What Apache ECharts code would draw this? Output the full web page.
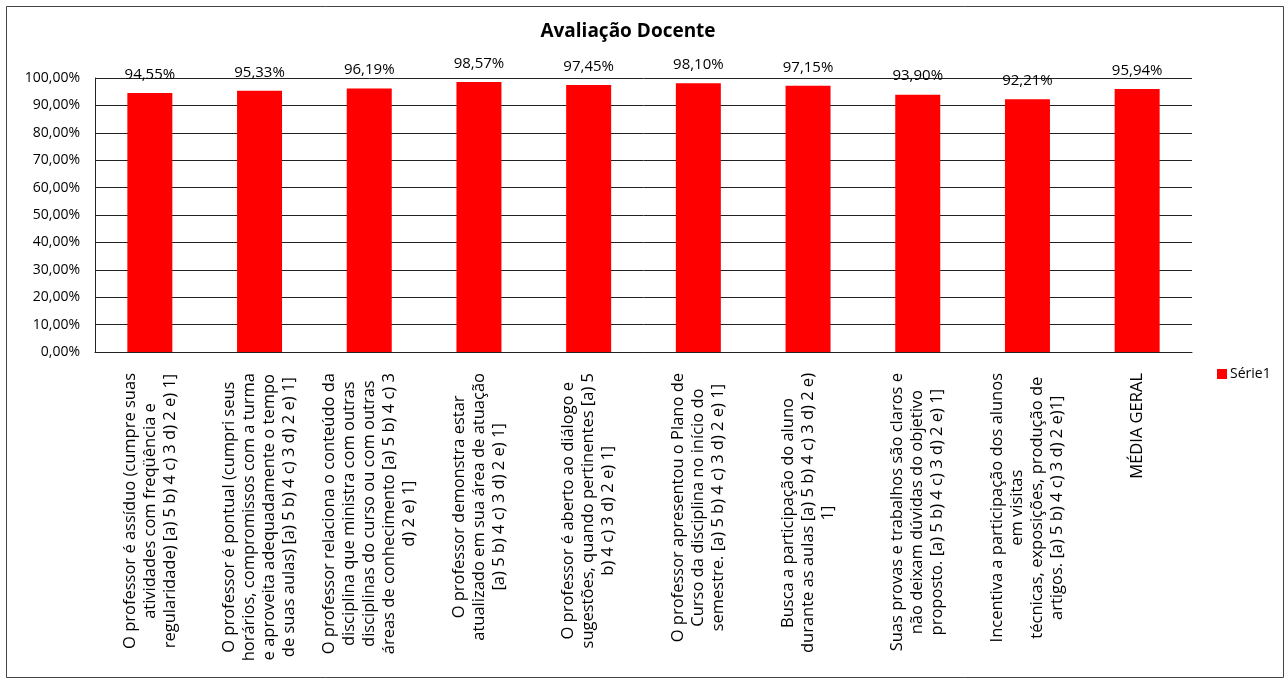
<!DOCTYPE html>
<html>
<head>
<meta charset="utf-8">
<script src="https://cdn.jsdelivr.net/npm/echarts@6/dist/echarts.min.js"></script>
<style>
html,body{margin:0;padding:0;background:#fff;}
#chart{width:1288px;height:682px;}
</style>
</head>
<body>
<div id="chart"></div>
<script>
const titleText = 'Avaliação Docente';
const seriesName = 'Série1';
const categories = [
  ['O professor é assíduo (cumpre suas', 'atividades com freqüência e', 'regularidade) [a) 5 b) 4 c) 3 d) 2 e) 1]'],
  ['O professor é pontual (cumpri seus', 'horários, compromissos com a turma', 'e aproveita adequadamente o tempo', 'de suas aulas) [a) 5 b) 4 c) 3 d) 2 e) 1]'],
  ['O professor relaciona o conteúdo da', 'disciplina que ministra com outras', 'disciplinas do curso ou com outras', 'áreas de conhecimento [a) 5 b) 4 c) 3', 'd) 2 e) 1]'],
  ['O professor demonstra estar', 'atualizado em sua área de atuação', '[a) 5 b) 4 c) 3 d) 2 e) 1]'],
  ['O professor é aberto ao diálogo e', 'sugestões, quando pertinentes [a) 5', 'b) 4 c) 3 d) 2 e) 1]'],
  ['O professor apresentou o Plano de', 'Curso da disciplina no início do', 'semestre. [a) 5 b) 4 c) 3 d) 2 e) 1]'],
  ['Busca a participação do aluno', 'durante as aulas [a) 5 b) 4 c) 3 d) 2 e)', '1]'],
  ['Suas provas e trabalhos são claros e', 'não deixam dúvidas do objetivo', 'proposto. [a) 5 b) 4 c) 3 d) 2 e) 1]'],
  ['Incentiva a participação dos alunos', 'em visitas', 'técnicas, exposições, produção de', 'artigos. [a) 5 b) 4 c) 3 d) 2 e)1]'],
  ['MÉDIA GERAL']
];
const values = [94.55, 95.33, 96.19, 98.57, 97.45, 98.10, 97.15, 93.90, 92.21, 95.94];
const yMin = 0, yMax = 100, yStep = 10;

const FONT = 'Open Sans';
const fmtPct = v => v.toFixed(2).replace('.', ',') + '%';
const catKeys = categories.map((c, i) => 'c' + i);

const chart = echarts.init(document.getElementById('chart'), null, {renderer: 'canvas'});
chart.setOption({
  animation: false,
  backgroundColor: '#fff',
  textStyle: {fontFamily: FONT, color: '#000'},
  title: {
    text: titleText,
    left: 623, top: 17, textAlign: 'center',
    textStyle: {fontFamily: FONT, fontSize: 19, fontWeight: 'bold', color: '#000'}
  },
  legend: {
    data: [seriesName],
    left: 1212, top: 362,
    itemWidth: 10, itemHeight: 10, itemGap: 5,
    icon: 'rect',
    textStyle: {fontFamily: FONT, fontSize: 14, color: '#000', padding: [0, 0, 0, -2]}
  },
  graphic: [{
    type: 'rect', silent: true,
    shape: {x: 6.5, y: 6.5, width: 1277, height: 671},
    style: {fill: 'none', stroke: '#444', lineWidth: 1}
  }],
  grid: {left: 95, right: 96, top: 78, bottom: 330, containLabel: false},
  xAxis: {
    type: 'category',
    data: catKeys,
    axisLine: {show: true, lineStyle: {color: '#222', width: 1}},
    axisTick: {show: false},
    axisLabel: {
      interval: 0, rotate: 90, margin: 21,
      formatter: (v, i) => categories[i].map(l => '{c|' + l + '}').join('\n'),
      rich: {c: {align: 'center', fontFamily: FONT, fontSize: 16.5, lineHeight: 20, color: '#000'}}
    }
  },
  yAxis: {
    type: 'value', min: yMin, max: yMax, interval: yStep,
    axisLine: {show: true, lineStyle: {color: '#222', width: 1}},
    axisTick: {show: false},
    splitLine: {lineStyle: {color: '#222', width: 1}},
    axisLabel: {formatter: fmtPct, margin: 15, fontFamily: FONT, fontSize: 14, color: '#000'}
  },
  series: [{
    name: seriesName,
    type: 'bar',
    data: values,
    barWidth: 45,
    itemStyle: {color: '#FF0000'},
    label: {
      show: true, position: 'top', distance: 11,
      formatter: p => fmtPct(p.value),
      fontFamily: FONT, fontSize: 15, color: '#000'
    }
  }]
});
</script>
</body>
</html>
